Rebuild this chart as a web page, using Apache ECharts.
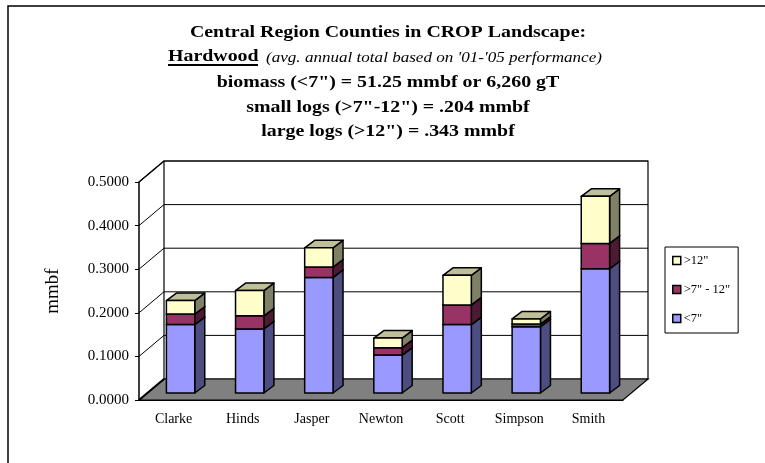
<!DOCTYPE html>
<html>
<head>
<meta charset="utf-8">
<script src="https://cdn.jsdelivr.net/npm/echarts@6/dist/echarts.min.js"></script>
<style>
  html, body { margin: 0; padding: 0; background: #fff; }
  #chart { width: 765px; height: 463px; }
</style>
</head>
<body>
<div id="chart"></div>
<script>
// Hardwood volume per county (mmbf), stacked by log size class
const categories = ['Clarke', 'Hinds', 'Jasper', 'Newton', 'Scott', 'Simpson', 'Smith'];
const under7 = [0.157, 0.147, 0.265, 0.087, 0.157, 0.152, 0.285];   // <7"
const from7to12 = [0.024, 0.030, 0.024, 0.017, 0.045, 0.006, 0.058]; // >7" - 12"
const over12 = [0.031, 0.058, 0.044, 0.022, 0.068, 0.012, 0.108];    // >12"
const seriesNames = ['<7"', '>7" - 12"', '>12"'];
const yMin = 0, yMax = 0.5, yStep = 0.1;

const titleLines = [
  'Central Region Counties in CROP Landscape:',
  'Hardwood',
  '(avg. annual total based on \'01-\'05 performance)',
  'biomass (<7") = 51.25 mmbf or 6,260 gT',
  'small logs (>7"-12") = .204 mmbf',
  'large logs (>12") = .343 mmbf'
];

// oblique depth of the box (back wall offset) and of each column
const WALL = [25, -21];
const BAR_OFF = [7, -7];
const BAR_DEPTH = [10, -7.5];
const SERIF = '"Liberation Serif", "Times New Roman", serif';

const faces = [
  { front: '#9999FF', side: '#4D4D80', top: '#7373BF' },
  { front: '#993366', side: '#4D1A33', top: '#73264D' },
  { front: '#FFFFCC', side: '#808066', top: '#BFBF99' }
];

// stacked bases
const layers = [under7, from7to12, over12];
const bases = layers.map(() => categories.map(() => 0));
for (let l = 1; l < layers.length; l++) {
  for (let i = 0; i < categories.length; i++) {
    bases[l][i] = bases[l - 1][i] + layers[l - 1][i];
  }
}

function boxRenderer(face) {
  return function (params, api) {
    const idx = api.value(0);
    const lo = api.value(1), hi = api.value(2);
    const pLo = api.coord([idx, lo]);
    const pHi = api.coord([idx, hi]);
    const w = api.size([1, 0])[0] * 0.41;
    const xl = pLo[0] - w / 2 + BAR_OFF[0];
    const xr = xl + w;
    const yb = pLo[1] + BAR_OFF[1];
    const yt = pHi[1] + BAR_OFF[1];
    const dx = BAR_DEPTH[0], dy = BAR_DEPTH[1];
    const stroke = { stroke: '#000', lineWidth: 1.5, lineJoin: 'round' };
    return {
      type: 'group',
      children: [
        { type: 'polygon', shape: { points: [[xr, yb], [xr + dx, yb + dy], [xr + dx, yt + dy], [xr, yt]] },
          style: Object.assign({ fill: face.side }, stroke) },
        { type: 'polygon', shape: { points: [[xl, yt], [xr, yt], [xr + dx, yt + dy], [xl + dx, yt + dy]] },
          style: Object.assign({ fill: face.top }, stroke) },
        { type: 'rect', shape: { x: xl, y: yt, width: w, height: yb - yt },
          style: Object.assign({ fill: face.front }, stroke) }
      ]
    };
  };
}

// floor, back wall, side wall and gridlines of the 3-D frame
function wallRenderer(params, api) {
  const cs = params.coordSys;
  const x0 = cs.x, x1 = cs.x + cs.width;
  const y0 = api.coord([0, yMin])[1];
  const yTop = api.coord([0, yMax])[1];
  const dx = WALL[0], dy = WALL[1];
  const line = { stroke: '#000', lineWidth: 1 };
  const children = [];
  children.push({ type: 'rect', shape: { x: x0 + dx, y: yTop + dy, width: x1 - x0, height: y0 - yTop },
    style: { fill: '#fff', stroke: '#000', lineWidth: 1.2 } });
  for (let v = yMin + yStep; v <= yMax + 1e-9; v += yStep) {
    const y = api.coord([0, v])[1];
    children.push({ type: 'line', shape: { x1: x0 + dx, y1: y + dy, x2: x1 + dx, y2: y + dy }, style: line });
    children.push({ type: 'line', shape: { x1: x0, y1: y, x2: x0 + dx, y2: y + dy }, style: line });
  }
  children.push({ type: 'line', shape: { x1: x0, y1: yTop, x2: x0 + dx, y2: yTop + dy },
    style: { stroke: '#000', lineWidth: 1.5 } });
  children.push({ type: 'polygon', shape: { points: [[x0, y0], [x1, y0], [x1 + dx, y0 + dy], [x0 + dx, y0 + dy]] },
    style: { fill: '#808080', stroke: '#000', lineWidth: 1.2 } });
  children.push({ type: 'line', shape: { x1: x0, y1: y0, x2: x0 + dx, y2: y0 + dy },
    style: { stroke: '#000', lineWidth: 2 } });
  return { type: 'group', children: children };
}

const chart = echarts.init(document.getElementById('chart'), null, { renderer: 'canvas' });

const series = [{
  type: 'custom',
  name: 'frame',
  renderItem: wallRenderer,
  data: [[categories[0], 0]],
  encode: { x: 0, y: 1 },
  silent: true,
  z: 1
}];
layers.forEach((vals, l) => {
  series.push({
    type: 'custom',
    name: seriesNames[l],
    renderItem: boxRenderer(faces[l]),
    itemStyle: { color: faces[l].front },
    encode: { x: 0, y: [1, 2] },
    data: categories.map((c, i) => [c, bases[l][i], bases[l][i] + vals[i]]),
    z: 2 + l
  });
});

// heading: wide-set serif lines
const TX = 388, STRETCH = 1.17;
function headLine(text, x, y, opts) {
  return {
    type: 'text', x: x, y: y, scaleX: STRETCH, silent: true,
    style: Object.assign({ text: text, fill: '#000', fontFamily: SERIF, fontSize: 17, fontWeight: 'bold',
      align: 'center', verticalAlign: 'top' }, opts || {})
  };
}

chart.setOption({
  animation: false,
  backgroundColor: '#fff',
  legend: {
    orient: 'vertical',
    left: 665,
    top: 247,
    data: ['>12"', '>7" - 12"', '<7"'],
    icon: 'rect',
    itemWidth: 8,
    itemHeight: 8,
    itemGap: 16,
    padding: [7, 8, 8, 7],
    borderColor: '#000',
    borderWidth: 1,
    backgroundColor: '#fff',
    itemStyle: { borderColor: '#000', borderWidth: 1.5 },
    textStyle: { fontFamily: SERIF, fontSize: 12.5, color: '#000', padding: [0, 0, 0, -2] }
  },
  grid: { left: 139, top: 182, width: 484, height: 218 },
  xAxis: {
    type: 'category',
    data: categories,
    axisLine: { lineStyle: { color: '#000', width: 1 } },
    axisTick: { alignWithLabel: false, length: 5, lineStyle: { color: '#000' } },
    axisLabel: { fontFamily: SERIF, fontSize: 14, color: '#000', margin: 12 }
  },
  yAxis: {
    type: 'value',
    min: yMin,
    max: yMax,
    interval: yStep,
    name: 'mmbf',
    nameLocation: 'middle',
    nameGap: 76,
    nameRotate: 90,
    nameTextStyle: { fontFamily: SERIF, fontSize: 19, color: '#000' },
    axisLine: { show: true, lineStyle: { color: '#000', width: 1.5 } },
    axisTick: { show: true, length: 4, lineStyle: { color: '#000' } },
    splitLine: { show: false },
    axisLabel: { fontFamily: SERIF, fontSize: 15, color: '#000', margin: 10,
      formatter: v => v.toFixed(4) }
  },
  graphic: [
    { type: 'rect', shape: { x: 8, y: 6, width: 800, height: 500 },
      style: { fill: 'none', stroke: '#000', lineWidth: 1.5 }, silent: true, z: 0 },
    headLine(titleLines[0], TX, 24.5),
    headLine(titleLines[1], 168, 48.5, { align: 'left' }),
    { type: 'line', shape: { x1: 168, y1: 65, x2: 258, y2: 65 },
      style: { stroke: '#000', lineWidth: 2 }, silent: true },
    headLine(titleLines[2], 266, 50.5, { align: 'left', fontWeight: 'normal', fontStyle: 'italic', fontSize: 14.6 }),
    headLine(titleLines[3], TX, 74),
    headLine(titleLines[4], TX, 99),
    headLine(titleLines[5], TX, 123.5)
  ],
  series: series
});
</script>
</body>
</html>
